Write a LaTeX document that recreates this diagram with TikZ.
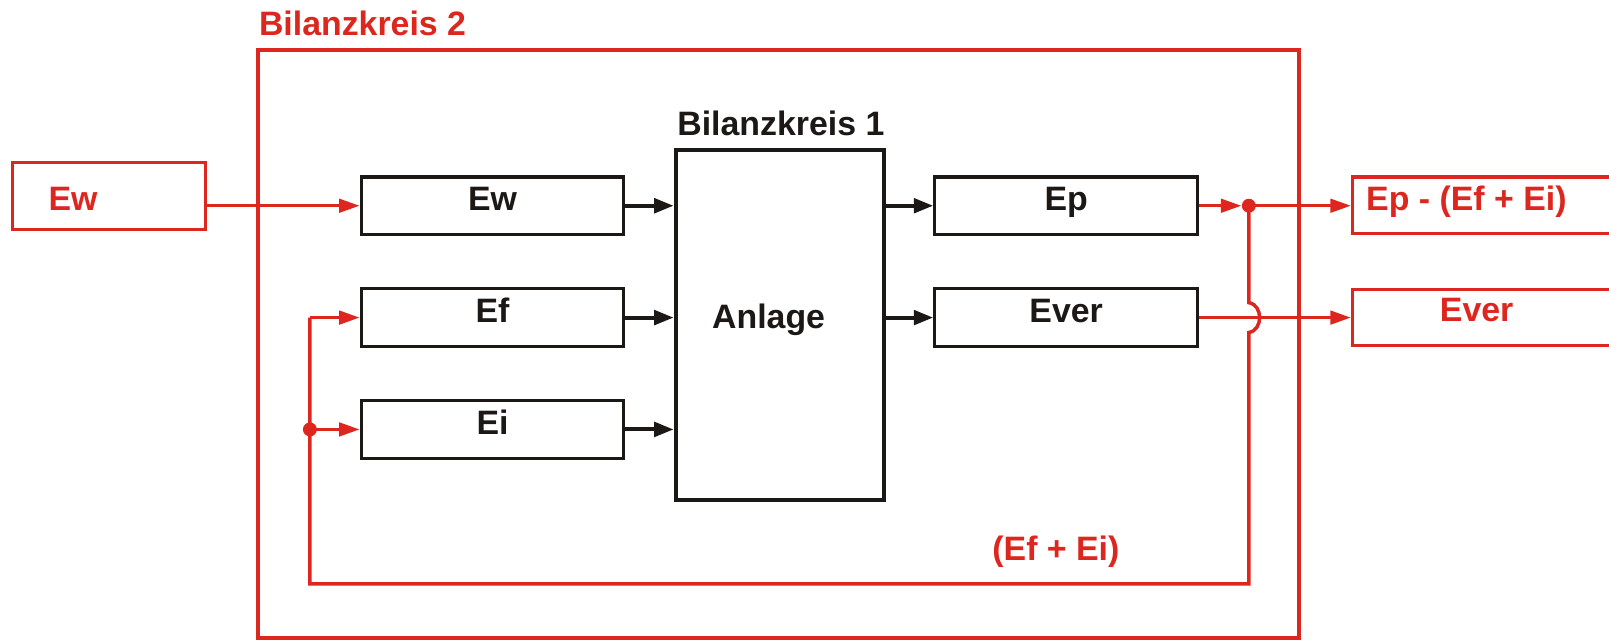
\documentclass[tikz,border=0pt]{standalone}
\usepackage{fontspec}
\setmainfont{Liberation Sans}
\usetikzlibrary{arrows.meta}
\definecolor{redc}{RGB}{221,38,30}
\definecolor{blackc}{RGB}{28,24,22}
\tikzset{
  redbox/.style={draw=redc, line width=1.5pt, rectangle, inner sep=0pt},
  blkbox/.style={draw=blackc, line width=1.5pt, rectangle, inner sep=0pt, text=blackc,
    minimum width=128pt, minimum height=28pt, text height=12pt, text depth=7pt},
  redtxt/.style={text=redc, inner sep=0pt},
  blktxt/.style={text=blackc, inner sep=0pt},
  redline/.style={draw=redc, line width=1.7pt},
  redarrow/.style={draw=redc, line width=1.7pt, -{Triangle[length=10pt,width=6.5pt]}, fill=redc},
  blkarrow/.style={draw=blackc, line width=2pt, -{Triangle[length=9.5pt,width=7pt]}},
  jdot/.style={circle, fill=redc, inner sep=0pt, minimum size=6.8pt},
}
\begin{document}
\begin{tikzpicture}[x=0.5pt, y=-0.5pt, font=\bfseries\fontsize{16.5}{19}\selectfont]
\useasboundingbox (0,0) rectangle (1568,624);
\clip (0,0) rectangle (1568,624);

% Bilanzkreis 2 frame
\node[redbox, line width=2pt, minimum width=507.5pt, minimum height=286.25pt] (bk2) at (758.5,335.25) {};
\node[redtxt, anchor=base west] (bk2lbl) at (252,35) {Bilanzkreis 2};

% left external box
\node[redbox, minimum width=94pt, minimum height=33pt] (EwL) at (106,191) {};
\node[redtxt, anchor=base west] (EwLtxt) at (47,205) {Ew};

% inner input boxes
\node[blkbox] (Ew) at (480,200.5) {Ew};
\node[blkbox] (Ef) at (480,309.5) {Ef};
\node[blkbox] (Ei) at (480,418.5) {Ei};

% Anlage
\node[draw=blackc, line width=2pt, rectangle, inner sep=0pt, minimum width=101.5pt, minimum height=170.5pt] (An) at (760,316.5) {};
\node[blktxt, anchor=base] (Antxt) at (749,320) {Anlage};
\node[blktxt, anchor=base] (bk1lbl) at (761,132.5) {Bilanzkreis 1};

% output boxes
\node[blkbox] (Ep) at (1039,200.5) {Ep};
\node[blkbox] (Ever) at (1039,309.5) {Ever};

% right external boxes
\node[redbox, minimum width=200pt, minimum height=27.5pt] (EpR) at (1518,200) {};
\node[redtxt, anchor=base] (EpRtxt) at (1429,205) {Ep - (Ef + Ei)};
\node[redbox, minimum width=200pt, minimum height=27pt] (EverR) at (1518,309.5) {};
\node[redtxt, anchor=base] (EverRtxt) at (1439,313.5) {Ever};

% junction dots
\node[jdot] (dotR) at (1217,200.5) {};
\node[jdot] (dotL) at (302,418.5) {};

% black arrows
\draw[blkarrow] (Ew.east) -- (An.west |- Ew.east);
\draw[blkarrow] (Ef.east) -- (An.west |- Ef.east);
\draw[blkarrow] (Ei.east) -- (An.west |- Ei.east);
\draw[blkarrow] (An.east |- Ep.west) -- (Ep.west);
\draw[blkarrow] (An.east |- Ever.west) -- (Ever.west);

% red arrows
\draw[redarrow] (EwL.east |- Ew.west) -- (Ew.west);
\draw[redarrow] (Ep.east) -- (dotR.west);
\draw[redarrow] (dotR.center) -- (EpR.west |- dotR.center);
\draw[redarrow] (Ever.east) -- (EverR.west |- Ever.east);
\draw[redarrow] (dotL.center) -- (Ei.west);

% feedback loop
\coordinate (hopA) at (1217,295);
\coordinate (hopB) at (1217,324);
\coordinate (loopR) at (1217,569);
\coordinate (loopL) at (302,569);
\coordinate (loopT) at (302,309.5);
\draw[redline] (dotR.center) -- (hopA) .. controls (1231,297) and (1231,322) .. (hopB) -- (loopR) -- (loopL) -- (loopT);
\draw[redarrow] (loopT) -- (Ef.west);

\node[redtxt, anchor=base] (sumlbl) at (1029,546) {(Ef + Ei)};
\end{tikzpicture}
\end{document}
